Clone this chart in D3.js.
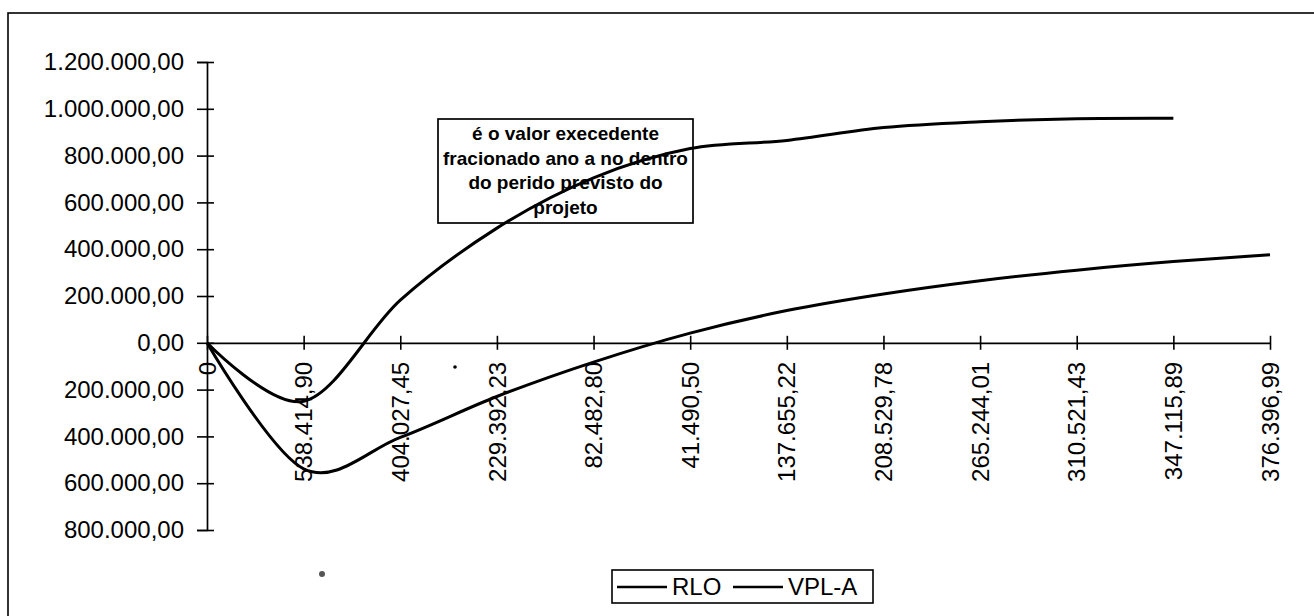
<!DOCTYPE html>
<html>
<head>
<meta charset="utf-8">
<script src="https://cdn.jsdelivr.net/npm/d3@7"></script>
<style>
  body { margin: 0; background: #fff; }
  text { font-family: "Liberation Sans", Arial, sans-serif; fill: #000; }
</style>
</head>
<body>
<script>
// category labels on the x axis
var categories = ["0", "538.414,90", "404.027,45", "229.392,23", "82.482,80", "41.490,50",
                  "137.655,22", "208.529,78", "265.244,01", "310.521,43", "347.115,89", "376.396,99"];

// series values
var rlo  = [0, -250000, 182000, 490000, 705000, 830000, 865000, 920000, 945000, 958000, 960000];
var vplA = [0, -538414.90, -404027.45, -229392.23, -82482.80, 41490.50, 137655.22,
            208529.78, 265244.01, 310521.43, 347115.89, 376396.99];

// y tick values (labels are printed without the minus sign)
var yTicks = [1200000, 1000000, 800000, 600000, 400000, 200000, 0, -200000, -400000, -600000, -800000];

var noteLines = ["é o valor execedente", "fracionado ano a no dentro", "do perido previsto do", "projeto"];
var legendNames = ["RLO", "VPL-A"];

var W = 1314, H = 616;

var svg = d3.select("body").append("svg")
    .attr("width", W)
    .attr("height", H);

// chart frame (runs off the page to the right and bottom)
svg.append("rect")
    .attr("x", 8).attr("y", 13)
    .attr("width", 1400).attr("height", 700)
    .attr("fill", "none")
    .attr("stroke", "#000")
    .attr("stroke-width", 1.6);

// scales
var x = d3.scalePoint().domain(d3.range(categories.length)).range([207, 1270]);
var y = d3.scaleLinear().domain([-800000, 1200000]).range([530, 62]);

var fmt = function(v) {
  var s = d3.format(",.2f")(Math.abs(v));
  return s.replace(/,/g, "#").replace(".", ",").replace(/#/g, ".");
};

// y axis
var yAxis = svg.append("g")
    .attr("transform", "translate(207,0)")
    .call(d3.axisLeft(y).tickValues(yTicks).tickSize(10).tickFormat(fmt));
yAxis.select(".domain").attr("stroke", "#000").attr("stroke-width", 1.7);
yAxis.selectAll(".tick line").attr("x2", -10).attr("x1", 7).attr("stroke", "#000").attr("stroke-width", 1.6);
yAxis.selectAll(".tick text")
    .attr("x", -23)
    .style("font-size", "24px")
    .style("font-family", "Liberation Sans, Arial, sans-serif");

// x axis at zero
var xAxis = svg.append("g")
    .attr("transform", "translate(0," + y(0) + ")")
    .call(d3.axisBottom(x).tickSize(0).tickFormat(""));
xAxis.select(".domain").attr("stroke", "#000").attr("stroke-width", 1.7);
xAxis.selectAll(".tick line").attr("y1", -7).attr("y2", 7).attr("stroke", "#000").attr("stroke-width", 1.6);

// rotated category labels
svg.append("g").selectAll("text")
    .data(categories)
  .enter().append("text")
    .attr("transform", function(d, i) { return "translate(" + x(i) + "," + (y(0) + 19) + ") rotate(-90)"; })
    .attr("dy", "0.36em")
    .style("text-anchor", "end")
    .style("font-size", "24px")
    .text(function(d) { return d; });

// smoothed lines
var line = d3.line()
    .x(function(d, i) { return x(i); })
    .y(function(d) { return y(d); })
    .curve(d3.curveCardinal.tension(0));

svg.append("path")
    .datum(rlo)
    .attr("fill", "none")
    .attr("stroke", "#000")
    .attr("stroke-width", 3)
    .attr("d", line);

svg.append("path")
    .datum(vplA)
    .attr("fill", "none")
    .attr("stroke", "#000")
    .attr("stroke-width", 3)
    .attr("d", line);

// note box
var note = svg.append("g");
note.append("rect")
    .attr("x", 438).attr("y", 119)
    .attr("width", 255).attr("height", 104)
    .attr("fill", "none")
    .attr("stroke", "#000")
    .attr("stroke-width", 1.7);
note.selectAll("text")
    .data(noteLines)
  .enter().append("text")
    .attr("x", 565.5)
    .attr("y", function(d, i) { return 140 + i * 24.7; })
    .style("text-anchor", "middle")
    .style("font-size", "19px")
    .style("font-weight", "bold")
    .text(function(d) { return d; });

// legend
var legend = svg.append("g");
legend.append("rect")
    .attr("x", 612).attr("y", 570)
    .attr("width", 261).attr("height", 33)
    .attr("fill", "#fff")
    .attr("stroke", "#000")
    .attr("stroke-width", 1.6);
var legX = [617, 733];
legendNames.forEach(function(name, i) {
  legend.append("line")
      .attr("x1", legX[i]).attr("x2", legX[i] + 50)
      .attr("y1", 587).attr("y2", 587)
      .attr("stroke", "#000").attr("stroke-width", 2.5);
  legend.append("text")
      .attr("x", legX[i] + 55)
      .attr("y", 595)
      .style("font-size", "24px")
      .text(name);
});

// small scan specks
svg.append("circle").attr("cx", 455).attr("cy", 367).attr("r", 1.8).attr("fill", "#000");
svg.append("circle").attr("cx", 322).attr("cy", 574).attr("r", 3).attr("fill", "#555");
</script>
</body>
</html>
